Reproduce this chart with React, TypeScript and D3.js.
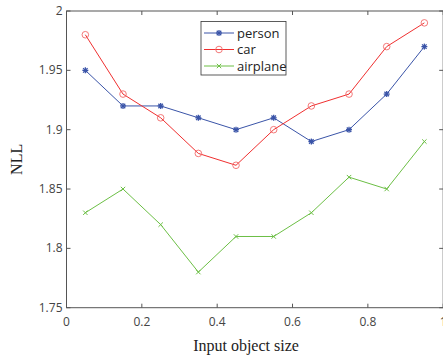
import React from "react";
import * as d3 from "d3";

const xs = [0.05, 0.15, 0.25, 0.35, 0.45, 0.55, 0.65, 0.75, 0.85, 0.95];
const person = [1.95, 1.92, 1.92, 1.91, 1.9, 1.91, 1.89, 1.9, 1.93, 1.97];
const car = [1.98, 1.93, 1.91, 1.88, 1.87, 1.9, 1.92, 1.93, 1.97, 1.99];
const airplane = [1.83, 1.85, 1.82, 1.78, 1.81, 1.81, 1.83, 1.86, 1.85, 1.89];
const xTicks = [0, 0.2, 0.4, 0.6, 0.8, 1];
const yTicks = [1.75, 1.8, 1.85, 1.9, 1.95, 2];
const seriesNames = ["person", "car", "airplane"];

const W = 443, H = 358;
const L = 66.5, R = 443.2, T = 11, B = 307.7;

export default function App() {
  const x = d3.scaleLinear().domain([0, 1]).range([L, R]);
  const y = d3.scaleLinear().domain([1.75, 2]).range([B, T]);
  const line = d3.line<[number, number]>().x(d => x(d[0])).y(d => y(d[1]));
  const series = [
    { name: seriesNames[0], data: person, color: "#3a54a8", marker: "star" },
    { name: seriesNames[1], data: car, color: "#f03030", marker: "circle" },
    { name: seriesNames[2], data: airplane, color: "#6cbf45", marker: "x" },
  ];
  const axisColor = "#555";
  const tickFont = "'Open Sans', 'DejaVu Sans', sans-serif";

  const marker = (m: string, cx: number, cy: number, color: string, key: any) => {
    if (m === "star") {
      const r = 3;
      return (
        <g key={key} stroke={color} strokeWidth={1.3}>
          <line x1={cx - r} y1={cy} x2={cx + r} y2={cy} />
          <line x1={cx} y1={cy - r} x2={cx} y2={cy + r} />
          <line x1={cx - r * 0.75} y1={cy - r * 0.75} x2={cx + r * 0.75} y2={cy + r * 0.75} />
          <line x1={cx - r * 0.75} y1={cy + r * 0.75} x2={cx + r * 0.75} y2={cy - r * 0.75} />
        </g>
      );
    }
    if (m === "circle") {
      return <circle key={key} cx={cx} cy={cy} r={3.3} fill="none" stroke="#f26a6a" strokeWidth={0.9} />;
    }
    const r = 2.2;
    return (
      <g key={key} stroke={color} strokeWidth={1}>
        <line x1={cx - r} y1={cy - r} x2={cx + r} y2={cy + r} />
        <line x1={cx - r} y1={cy + r} x2={cx + r} y2={cy - r} />
      </g>
    );
  };

  return (
    <svg width={W} height={H} style={{ position: "absolute", left: 0, top: 0 }}>
      <rect x={0} y={0} width={W} height={H} fill="#fff" />
      <rect x={L} y={T} width={R - L} height={B - T} fill="none" stroke={axisColor} strokeWidth={1} />
      {xTicks.map((t, i) => (
        <g key={"xt" + i}>
          <line x1={x(t)} x2={x(t)} y1={B} y2={B - 4} stroke={axisColor} />
          <line x1={x(t)} x2={x(t)} y1={T} y2={T + 4} stroke={axisColor} />
          <text x={x(t)} y={B + 18} textAnchor="middle" fontFamily={tickFont} fontSize={12} fill="#444">{t}</text>
        </g>
      ))}
      {yTicks.map((t, i) => (
        <g key={"yt" + i}>
          <line x1={L} x2={L + 4} y1={y(t)} y2={y(t)} stroke={axisColor} />
          <line x1={R} x2={R - 4} y1={y(t)} y2={y(t)} stroke={axisColor} />
          <text x={L - 4} y={y(t) + 4} textAnchor="end" fontFamily={tickFont} fontSize={12} fill="#444">{t}</text>
        </g>
      ))}
      {series.map(s => {
        const pts = xs.map((xv, i) => [xv, s.data[i]] as [number, number]);
        return (
          <g key={s.name}>
            <path d={line(pts) || ""} fill="none" stroke={s.color} strokeWidth={1} />
            {pts.map((p, i) => marker(s.marker, x(p[0]), y(p[1]), s.color, i))}
          </g>
        );
      })}
      <g>
        <rect x={201} y={21.5} width={85} height={53.5} fill="#fff" stroke="#333" strokeWidth={0.8} />
        {series.map((s, i) => {
          const ly = 33 + i * 16.5;
          return (
            <g key={"lg" + i}>
              <line x1={204} x2={234} y1={ly} y2={ly} stroke={s.color} strokeWidth={1} />
              {marker(s.marker, 219, ly, s.color, "m")}
              <text x={237} y={ly + 4.5} fontFamily={tickFont} fontSize={13} fill="#222">{s.name}</text>
            </g>
          );
        })}
      </g>
      <text x={246} y={351} textAnchor="middle" fontFamily="'Liberation Serif', 'Times New Roman', serif" fontSize={16} fill="#222">Input object size</text>
      <text transform={`translate(22, ${(T + B) / 2}) rotate(-90)`} textAnchor="middle" fontFamily="'Liberation Serif', 'Times New Roman', serif" fontSize={16} fill="#222">NLL</text>
    </svg>
  );
}
